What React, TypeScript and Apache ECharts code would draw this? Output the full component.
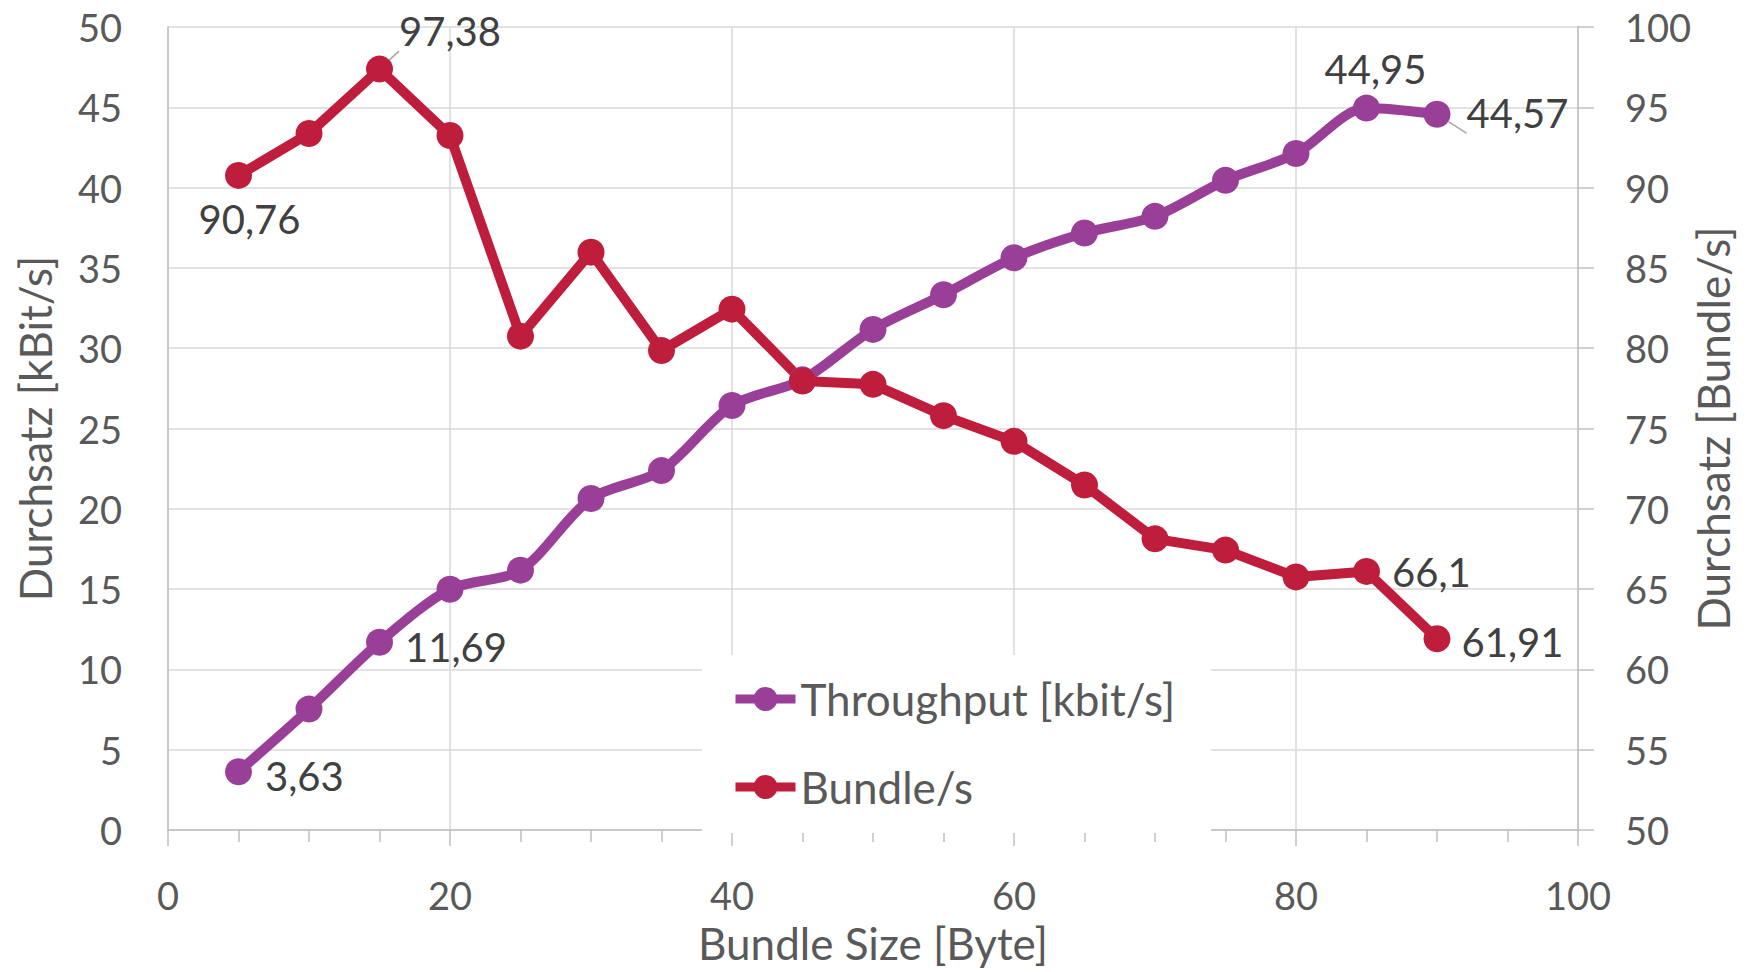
import React, { useEffect, useRef } from "react";
import * as echarts from "echarts";

const bundleSizes = [5, 10, 15, 20, 25, 30, 35, 40, 45, 50, 55, 60, 65, 70, 75, 80, 85, 90];
const throughput = [3.63, 7.53, 11.69, 14.99, 16.18, 20.64, 22.38, 26.43, 28.03, 31.17, 33.33, 35.63, 37.17, 38.21, 40.45, 42.12, 44.95, 44.57];
const bundlesPerSec = [90.76, 93.37, 97.38, 93.24, 80.75, 85.98, 79.85, 82.43, 77.96, 77.75, 75.8, 74.2, 71.48, 68.13, 67.43, 65.76, 66.1, 61.91];
const seriesNames = ["Throughput [kbit/s]", "Bundle/s"];
const xName = "Bundle Size [Byte]";
const yLeftName = "Durchsatz [kBit/s]";
const yRightName = "Durchsatz [Bundle/s]";

const FONT = "Lato";
const PURPLE = "#9A3F98";
const RED = "#BF1D3C";
const AXIS_TEXT = "#595959";
const LABEL_TEXT = "#404040";
const LEADER = "#A6A6A6";

const fmt = (v: number) => String(v).replace(".", ",");

const tpLabels: Record<number, any> = {
  0: { position: "right", distance: 13, offset: [0, 4] },
  2: { position: "right", distance: 12, offset: [0, 5] },
  16: { position: "top", distance: 5, offset: [9, -1], leader: true },
  17: { position: "right", distance: 16, offset: [0, -1], leader: true },
};
const buLabels: Record<number, any> = {
  0: { position: "bottom", distance: 5, offset: [11, 5] },
  2: { position: "right", distance: 6, offset: [0, -38], leader: true },
  16: { position: "right", distance: 12, offset: [0, 1] },
  17: { position: "right", distance: 11, offset: [0, 3] },
};

function buildData(values: number[], labels: Record<number, any>) {
  return values.map((v, i) => {
    const item: any = { value: [bundleSizes[i], v] };
    if (labels[i]) {
      const { leader, ...pos } = labels[i];
      item.label = {
        show: true,
        ...pos,
        formatter: () => fmt(v),
        fontFamily: FONT,
        fontSize: 40,
        color: LABEL_TEXT,
      };
      if (leader) {
        item.labelLine = { show: true, lineStyle: { color: LEADER, width: 1.5 } };
      }
    }
    return item;
  });
}

export default function App() {
  const ref = useRef<HTMLDivElement>(null);
  useEffect(() => {
    if (!ref.current) return;
    const chart = echarts.init(ref.current, undefined, { renderer: "svg" });
    const gridColor = "#D9D9D9";
    const axisColor = "#BFBFBF";
    chart.setOption({
      animation: false,
      backgroundColor: "#fff",
      textStyle: { fontFamily: FONT },
      grid: { left: 168, right: 178, top: 27, bottom: 142, containLabel: false, outerBoundsMode: "none" },
      legend: {
        orient: "vertical",
        left: 702,
        top: 655,
        backgroundColor: "#fff",
        padding: [22, 36, 24, 29],
        itemWidth: 60,
        itemHeight: 30,
        itemGap: 44,
        lineStyle: { width: 9 },
        textStyle: { fontFamily: FONT, fontSize: 44, color: AXIS_TEXT, lineHeight: 40 },
        data: seriesNames,
      },
      xAxis: {
        type: "value",
        min: 0,
        max: 100,
        interval: 20,
        name: xName,
        nameLocation: "middle",
        nameGap: 91,
        nameMoveOverlap: false,
        nameTextStyle: { fontFamily: FONT, fontSize: 44, color: AXIS_TEXT },
        axisLine: { show: true, lineStyle: { color: axisColor, width: 1.5 } },
        axisTick: { show: true, length: 16, lineStyle: { color: axisColor, width: 1.5 } },
        minorTick: { show: true, splitNumber: 4, length: 12, lineStyle: { color: axisColor, width: 1.5 } },
        splitLine: { show: true, lineStyle: { color: gridColor, width: 1.5 } },
        axisLabel: { fontFamily: FONT, fontSize: 38, color: AXIS_TEXT, margin: 46 },
      },
      yAxis: [
        {
          type: "value",
          min: 0,
          max: 50,
          interval: 5,
          position: "left",
          name: yLeftName,
          nameLocation: "middle",
          nameRotate: 90,
          nameGap: 111,
          nameMoveOverlap: false,
          nameTextStyle: { fontFamily: FONT, fontSize: 44, color: AXIS_TEXT },
          axisLine: { show: true, lineStyle: { color: axisColor, width: 1.5 } },
          axisTick: { show: false },
          splitLine: { show: true, lineStyle: { color: gridColor, width: 1.5 } },
          axisLabel: { fontFamily: FONT, fontSize: 38, color: AXIS_TEXT, margin: 46 },
        },
        {
          type: "value",
          min: 50,
          max: 100,
          interval: 5,
          position: "right",
          name: yRightName,
          nameLocation: "middle",
          nameRotate: 90,
          nameGap: 113,
          nameMoveOverlap: false,
          nameTextStyle: { fontFamily: FONT, fontSize: 44, color: AXIS_TEXT },
          axisLine: { show: true, lineStyle: { color: axisColor, width: 1.5 } },
          axisTick: { show: true, length: 16, lineStyle: { color: axisColor, width: 1.5 } },
          splitLine: { show: false },
          axisLabel: { fontFamily: FONT, fontSize: 38, color: AXIS_TEXT, margin: 47 },
        },
      ],
      series: [
        {
          name: seriesNames[0],
          type: "line",
          yAxisIndex: 0,
          data: buildData(throughput, tpLabels),
          smooth: 0.3,
          symbol: "circle",
          symbolSize: 27,
          itemStyle: { color: PURPLE },
          lineStyle: { color: PURPLE, width: 10 },
          label: { show: false },
        },
        {
          name: seriesNames[1],
          type: "line",
          yAxisIndex: 1,
          data: buildData(bundlesPerSec, buLabels),
          smooth: false,
          symbol: "circle",
          symbolSize: 27,
          itemStyle: { color: RED },
          lineStyle: { color: RED, width: 10 },
          label: { show: false },
        },
      ],
    });
    return () => chart.dispose();
  }, []);
  return (
    <div
      ref={ref}
      style={{ position: "absolute", left: 0, top: 0, width: 1756, height: 972 }}
    />
  );
}
